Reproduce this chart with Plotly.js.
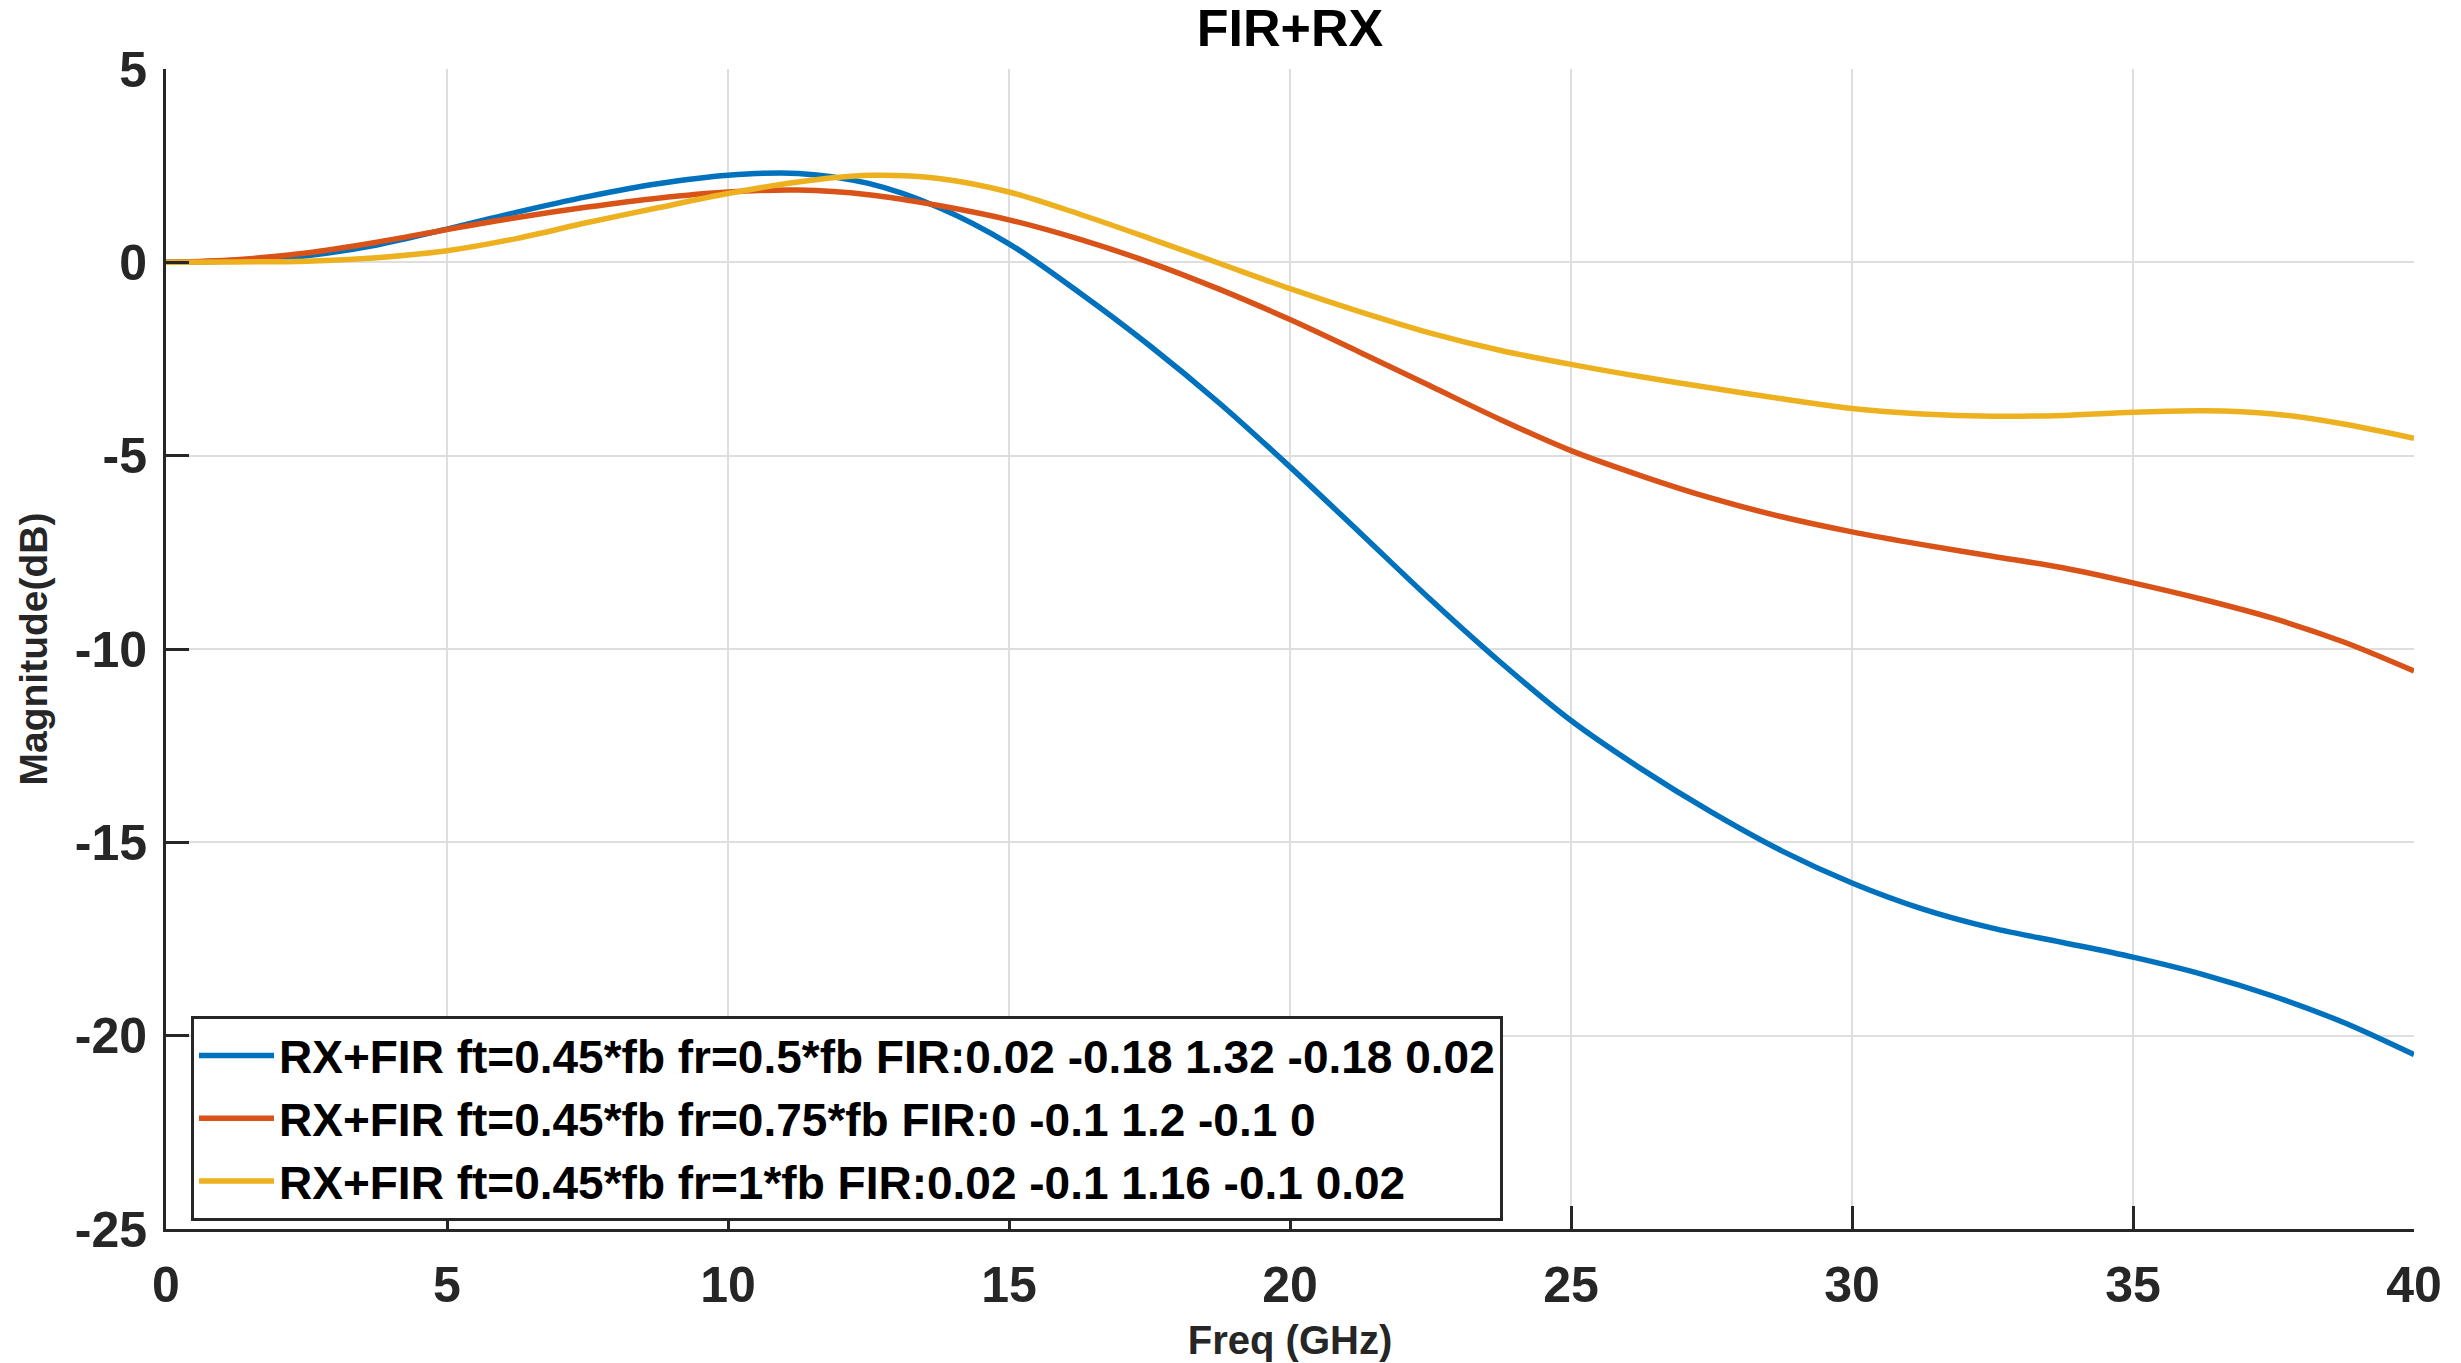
<!DOCTYPE html>
<html>
<head>
<meta charset="utf-8">
<script src="https://cdn.plot.ly/plotly-3.0.1.min.js"></script>
<style>
html,body{margin:0;padding:0;background:#fff;}
#chart{width:2461px;height:1363px;}
</style>
</head>
<body>
<div id="chart"></div>
<script>
const freq = [0, 1.25, 2.5, 3.75, 5, 6.25, 7.5, 8.75, 10, 11.25, 12.5, 13.75, 15, 16.25, 17.5, 18.75, 20, 21.25, 22.5, 23.75, 25, 26.25, 27.5, 28.75, 30, 31.25, 32.5, 33.75, 35, 36.25, 37.5, 38.75, 40];

const blueMag = [0, 0.04, 0.17, 0.45, 0.86, 1.3, 1.7, 2.03, 2.25, 2.3, 2.04, 1.42, 0.48, -0.78, -2.15, -3.65, -5.29, -7.0, -8.72, -10.35, -11.85, -13.1, -14.22, -15.22, -16.05, -16.72, -17.22, -17.59, -17.97, -18.42, -18.98, -19.66, -20.49];

const redMag = [0, 0.07, 0.24, 0.52, 0.85, 1.16, 1.43, 1.66, 1.82, 1.87, 1.75, 1.47, 1.1, 0.6, 0.0, -0.7, -1.48, -2.33, -3.2, -4.07, -4.87, -5.52, -6.1, -6.58, -6.97, -7.3, -7.6, -7.9, -8.29, -8.72, -9.21, -9.82, -10.57];

const yellowMag = [0, 0.01, 0.03, 0.12, 0.3, 0.62, 1.03, 1.41, 1.78, 2.08, 2.25, 2.17, 1.82, 1.25, 0.62, -0.03, -0.68, -1.28, -1.83, -2.28, -2.64, -2.96, -3.25, -3.53, -3.78, -3.92, -3.98, -3.96, -3.88, -3.84, -3.92, -4.18, -4.55];

const seriesNames = [
  "RX+FIR ft=0.45*fb fr=0.5*fb FIR:0.02 -0.18 1.32 -0.18 0.02",
  "RX+FIR ft=0.45*fb fr=0.75*fb FIR:0 -0.1 1.2 -0.1 0",
  "RX+FIR ft=0.45*fb fr=1*fb FIR:0.02 -0.1 1.16 -0.1 0.02"
];
const xTicks = [0, 5, 10, 15, 20, 25, 30, 35, 40];
const yTicks = [-25, -20, -15, -10, -5, 0, 5];

const colors = ["#0072BD", "#D95319", "#EDB120"];
const ys = [blueMag, redMag, yellowMag];
const FONT = "Arial, 'Liberation Sans', Helvetica, sans-serif";

const traces = ys.map((y, i) => ({
  x: freq, y: y, type: "scatter", mode: "lines", name: seriesNames[i],
  line: {color: colors[i], width: 5.5, shape: "spline", smoothing: 0.9}
}));

const layout = {
  width: 2461, height: 1363,
  margin: {l: 166, r: 47, t: 69, b: 134},
  paper_bgcolor: "#fff", plot_bgcolor: "#fff",
  font: {family: FONT, color: "#262626"},
  title: {text: "<b>FIR+RX</b>", x: 0.5, xref: "paper", y: 1 - 28/1363, yref: "container", yanchor: "middle",
          font: {size: 52, family: FONT, color: "#000"}},
  xaxis: {
    range: [0, 40], tickvals: xTicks, ticktext: xTicks.map(String),
    showgrid: true, gridcolor: "#dedede", gridwidth: 2,
    showline: true, linecolor: "#262626", linewidth: 3, mirror: false,
    ticks: "inside", ticklen: 23, tickwidth: 3, tickcolor: "#262626",
    zeroline: false, tickfont: {size: 50, family: FONT, color: "#262626", weight: "bold"},
    ticklabelstandoff: 10,
    title: {text: "<b>Freq (GHz)</b>", font: {size: 40, family: FONT, color: "#262626"}, standoff: 14}
  },
  yaxis: {
    range: [-25, 5], tickvals: yTicks, ticktext: yTicks.map(String),
    showgrid: true, gridcolor: "#dedede", gridwidth: 2,
    showline: true, linecolor: "#262626", linewidth: 3, mirror: false,
    ticks: "inside", ticklen: 23, tickwidth: 3, tickcolor: "#262626",
    zeroline: false, tickfont: {size: 50, family: FONT, color: "#262626", weight: "bold"},
    ticklabelstandoff: 6,
    title: {text: "<b>Magnitude(dB)</b>", font: {size: 39, family: FONT, color: "#262626"}, standoff: 16}
  },
  showlegend: true,
  legend: {
    x: (191 - 166) / 2248, xanchor: "left", y: (1229 - 1016) / 1160, yanchor: "top",
    bgcolor: "#fff", bordercolor: "#262626", borderwidth: 3,
    font: {size: 46, family: FONT, color: "#000", weight: "bold"},
    itemwidth: 75, tracegroupgap: 0
  }
};

Plotly.newPlot("chart", traces, layout, {displayModeBar: false, staticPlot: true});
</script>
</body>
</html>
